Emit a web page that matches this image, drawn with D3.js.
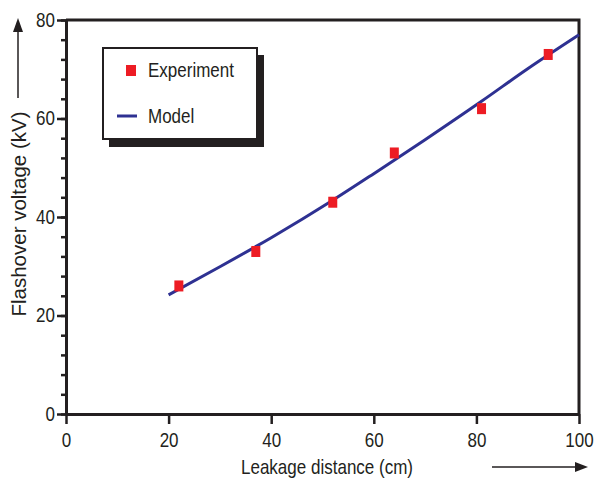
<!DOCTYPE html>
<html>
<head>
<meta charset="utf-8">
<script src="https://cdn.jsdelivr.net/npm/d3@7"></script>
<style>
  body { margin: 0; background: #fff; }
  svg text { fill: #231f20; font-family: 'Liberation Sans', Arial, sans-serif; }
</style>
</head>
<body>
<div class="chart"></div>
<script>
// data
let expDistance = [22, 37, 52, 64, 81, 94];
let expVoltage = [26, 33, 43, 53, 62, 73];
let modelDistance = [20, 30, 40, 52, 60, 70, 81, 90, 100];
let modelVoltage = [24.2, 29.9, 35.8, 43.4, 48.8, 55.7, 63.5, 70.1, 77];
let xTicks = [0, 20, 40, 60, 80, 100];
let yTicks = [0, 20, 40, 60, 80];
let yMinor = d3.range(0, 81, 4);
let legendLabels = ["Experiment", "Model"];

let ink = "#231f20", red = "#ed1c24", navy = "#2e3192";
let squeeze = 0.85; // the figure uses a condensed face

let svg = d3.select(".chart").append("svg").attr("width", 594).attr("height", 478);

let x = d3.scaleLinear().domain([0, 100]).range([66, 579]),
    y = d3.scaleLinear().domain([0, 80]).range([414, 20]);

// frame top and right
svg.append("path")
    .attr("d", "M" + x(0) + "," + y(80) + "H" + x(100) + "V" + y(0))
    .attr("fill", "none").attr("stroke", ink).attr("stroke-width", 3);

// minor ticks
svg.append("g")
    .attr("transform", "translate(" + x(0) + ",0)")
    .call(d3.axisLeft(y).tickValues(yMinor).tickSize(5).tickFormat(""))
    .call(g => g.select(".domain").remove())
    .selectAll("line").attr("stroke", ink).attr("stroke-width", 2.5);

let yAxis = svg.append("g")
    .attr("transform", "translate(" + x(0) + ",0)")
    .call(d3.axisLeft(y).tickValues(yTicks).tickSize(9).tickSizeOuter(0).tickPadding(2));
yAxis.select(".domain").attr("stroke", ink).attr("stroke-width", 3);
yAxis.selectAll("line").attr("stroke", ink).attr("stroke-width", 2.5);
yAxis.selectAll("text")
    .attr("x", -11 / squeeze)
    .attr("transform", "scale(" + squeeze + ",1)")
    .style("font-size", "20px").attr("font-family", null).attr("fill", ink);

let xAxis = svg.append("g")
    .attr("transform", "translate(0," + y(0) + ")")
    .call(d3.axisBottom(x).tickValues(xTicks).tickSize(10).tickSizeOuter(0).tickPadding(9));
xAxis.select(".domain").attr("stroke", ink).attr("stroke-width", 3);
xAxis.selectAll("line").attr("stroke", ink).attr("stroke-width", 2.5);
xAxis.selectAll("text")
    .attr("transform", "scale(" + squeeze + ",1)")
    .style("font-size", "20px").attr("font-family", null).attr("fill", ink);

// axis titles
svg.append("text")
    .attr("transform", "translate(327,474) scale(0.83,1)")
    .attr("text-anchor", "middle")
    .style("font-size", "20.5px")
    .text("Leakage distance (cm)");

svg.append("text")
    .attr("transform", "translate(26,214) rotate(-90)")
    .attr("text-anchor", "middle")
    .style("font-size", "20.5px")
    .text("Flashover voltage (kV)");

// arrows
svg.append("line").attr("x1", 18).attr("y1", 98).attr("x2", 18).attr("y2", 30)
    .attr("stroke", ink).attr("stroke-width", 1.5);
svg.append("path").attr("d", "M18,18L23,32L13,32Z").attr("fill", ink);
svg.append("line").attr("x1", 492).attr("y1", 467).attr("x2", 578).attr("y2", 467)
    .attr("stroke", ink).attr("stroke-width", 1.5);
svg.append("path").attr("d", "M588,467L575,462L575,472Z").attr("fill", ink);

// model curve
let line = d3.line()
    .curve(d3.curveMonotoneX)
    .x(function (d) { return x(d[0]); })
    .y(function (d) { return y(d[1]); });

svg.append("path")
    .datum(modelDistance.map(function (d, i) { return [d, modelVoltage[i]]; }))
    .attr("d", line)
    .attr("fill", "none")
    .attr("stroke", navy)
    .attr("stroke-width", 3);

// experiment points
svg.selectAll(".pt")
    .data(expDistance.map(function (d, i) { return [d, expVoltage[i]]; }))
    .enter().append("rect")
    .attr("class", "pt")
    .attr("x", function (d) { return x(d[0]) - 4.5; })
    .attr("y", function (d) { return y(d[1]) - 5.5; })
    .attr("width", 9).attr("height", 11)
    .attr("fill", red);

// legend
let legend = svg.append("g").attr("transform", "translate(102,47)");
legend.append("rect").attr("x", 7).attr("y", 8).attr("width", 155).attr("height", 92).attr("fill", ink);
legend.append("rect").attr("x", 1).attr("y", 1).attr("width", 154).attr("height", 91)
    .attr("fill", "#fff").attr("stroke", ink).attr("stroke-width", 2);
legend.append("rect").attr("x", 24).attr("y", 18).attr("width", 10).attr("height", 11).attr("fill", red);
legend.append("line").attr("x1", 15).attr("x2", 35).attr("y1", 69).attr("y2", 69)
    .attr("stroke", navy).attr("stroke-width", 3);
legend.selectAll(".lab")
    .data(legendLabels)
    .enter().append("text")
    .attr("class", "lab")
    .attr("transform", function (d, i) { return "translate(46," + (30 + i * 46) + ") scale(" + squeeze + ",1)"; })
    .style("font-size", "20px")
    .text(function (d) { return d; });
</script>
</body>
</html>
